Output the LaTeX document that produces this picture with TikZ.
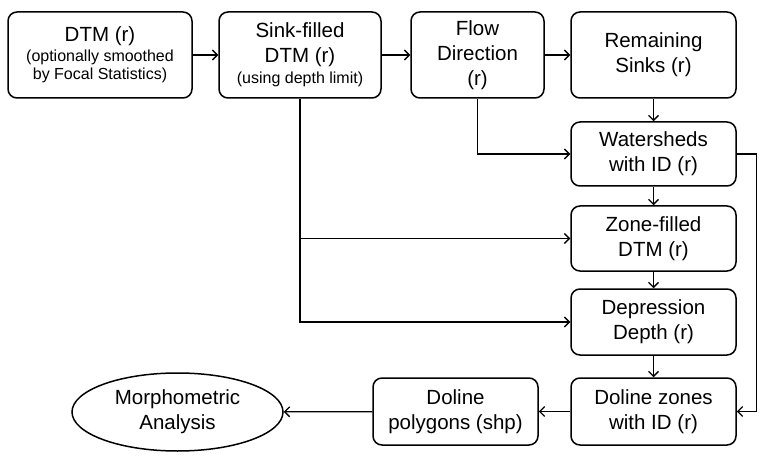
\documentclass[tikz,border=0pt]{standalone}
\usepackage{fontspec}
\setmainfont{Liberation Sans}
\usetikzlibrary{arrows.meta, positioning, shapes.geometric}

\newcommand{\subtxt}{\fontsize{16}{18}\selectfont}

\begin{document}
\begin{tikzpicture}[
  x=1pt, y=-1pt,
  font=\fontsize{20.5}{25}\selectfont,
  stage/.style={
    rectangle,
    rounded corners=9pt,
    draw,
    line width=1.5pt,
    align=center,
    inner sep=0pt,
    minimum width=165pt
  },
  result/.style={
    ellipse,
    draw,
    line width=1.5pt,
    align=center,
    inner sep=0pt,
    minimum width=211pt,
    minimum height=78pt
  },
  link/.style={
    -{Straight Barb[length=5pt,width=10pt]},
    line width=1.3pt
  }
]

\useasboundingbox (0,0) rectangle (762,470);

% top row
\node[stage, minimum width=184pt, minimum height=86pt] (dtm) at (100,55)
  {DTM (r)\\[-5pt]\subtxt (optionally smoothed\\[-7pt]\subtxt by Focal Statistics)};
\node[stage, minimum width=162pt, minimum height=86pt] (sink) at (300,55)
  {Sink-filled\\DTM (r)\\[-4pt]\subtxt (using depth limit)};
\node[stage, minimum width=133pt, minimum height=86pt] (fdir) at (477.5,55)
  {Flow\\Direction\\(r)};
\node[stage, minimum height=86pt] (remain) at (653.5,55)
  {Remaining\\Sinks (r)};

% right column
\node[stage, minimum height=64pt] (water) at (653.5,154)
  {Watersheds\\with ID (r)};
\node[stage, minimum height=65pt] (zone) at (653.5,238.5)
  {Zone-filled\\DTM (r)};
\node[stage, minimum height=66pt] (depr) at (653.5,322)
  {Depression\\Depth (r)};
\node[stage, minimum height=67pt] (zones) at (653.5,411.5)
  {Doline zones\\with ID (r)};

% bottom row
\node[stage, minimum height=67pt] (poly) at (455.5,411.5)
  {Doline\\polygons (shp)};
\node[result] (morph) at (177.5,412)
  {Morphometric\\Analysis};

\coordinate[right=20pt of water.east] (bend);

\draw[link] (dtm) -- (sink);
\draw[link] (sink) -- (fdir);
\draw[link] (fdir) -- (remain);
\draw[link] (remain) -- (water);
\draw[link] (fdir.south) |- (water.west);
\draw[link] (water) -- (zone);
\draw[link] (zone) -- (depr);
\draw[link] (depr) -- (zones);
\draw[link] (sink.south) |- (depr.west);
\draw[link] (sink.south |- zone.west) -- (zone.west);
\draw[link] (water.east) -- (bend) |- (zones.east);
\draw[link] (zones) -- (poly);
\draw[link] (poly) -- (morph);

\end{tikzpicture}
\end{document}
